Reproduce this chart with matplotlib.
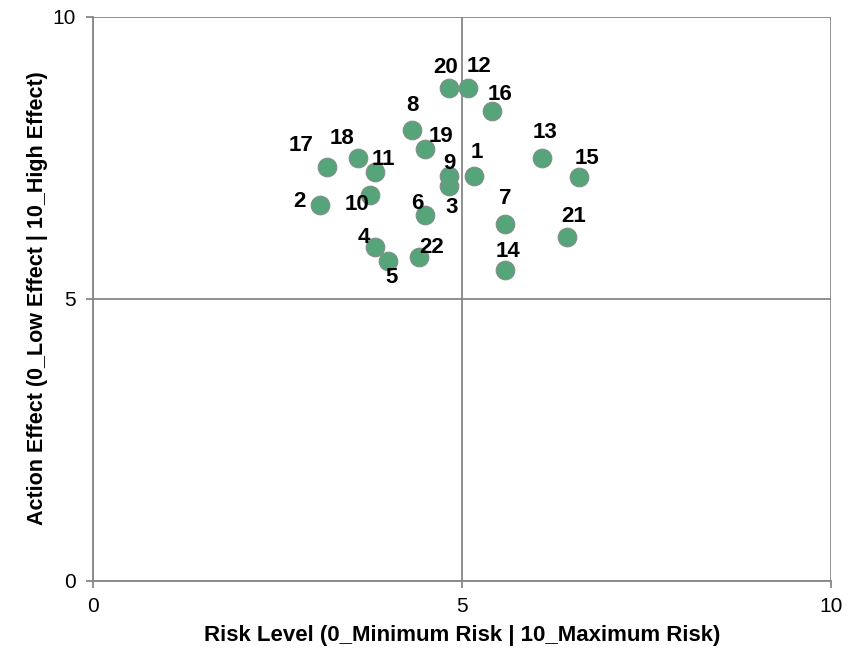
import matplotlib.pyplot as plt

plt.rcParams['font.family'] = ['Liberation Sans', 'DejaVu Sans']

# action ids with risk level (x) and action effect (y)
ids = [str(i) for i in range(1, 23)]
risk = [5.17, 3.08, 4.83, 3.83, 4.00, 4.50, 5.59, 4.33, 4.83, 3.76, 3.83,
        5.08, 6.08, 5.59, 6.59, 5.41, 3.17, 3.59, 4.50, 4.83, 6.42, 4.42]
effect = [7.17, 6.66, 6.99, 5.91, 5.66, 6.49, 6.33, 7.99, 7.17, 6.83, 7.25,
          8.74, 7.50, 5.50, 7.15, 8.32, 7.33, 7.50, 7.66, 8.74, 6.09, 5.74]

# label offsets in pixels (dx, dy), dy positive is up
offsets = [(2, 24), (-21, 3), (2, -21), (-12, 10), (3, -16), (-8, 11),
           (0, 25), (0, 24), (0, 13), (-13, -9), (8, 12), (11, 21),
           (3, 25), (3, 19), (8, 19), (8, 17), (-26, 22), (-16, 19),
           (16, 12), (-4, 20), (7, 21), (13, 9)]

fig = plt.figure(figsize=(8.52, 6.49), dpi=100)
ax = fig.add_axes([0.1088, 0.1055, 0.8666, 0.869])

grid_col = '#878787'
ax.set_xlim(0, 10)
ax.set_ylim(0, 10)
ax.set_xticks([0, 5, 10])
ax.set_yticks([0, 5, 10])
ax.grid(True, color=grid_col, linewidth=1.3)
ax.set_axisbelow(True)
for side in ['top', 'right']:
    ax.spines[side].set_visible(False)
for side in ['left', 'bottom']:
    ax.spines[side].set_color(grid_col)
    ax.spines[side].set_linewidth(1.3)
ax.tick_params(direction='out', length=5, width=1.3, color=grid_col,
               labelsize=15, pad=7)

ax.scatter(risk, effect, s=180, color='#56A47A', edgecolor='#7f8f85',
           linewidth=0.8, zorder=3)

for name, x, y, (dx, dy) in zip(ids, risk, effect, offsets):
    ax.annotate(name, (x, y), xytext=(dx, dy), textcoords='offset pixels',
                ha='center', va='center', fontsize=16, fontweight='bold',
                zorder=4)

ax.set_xlabel('Risk Level (0_Minimum Risk | 10_Maximum Risk)',
              fontsize=16, fontweight='bold', labelpad=6)
ax.set_ylabel('Action Effect (0_Low Effect | 10_High Effect)',
              fontsize=15.5, fontweight='bold', labelpad=3)

fig.savefig('out.png', dpi=100)
